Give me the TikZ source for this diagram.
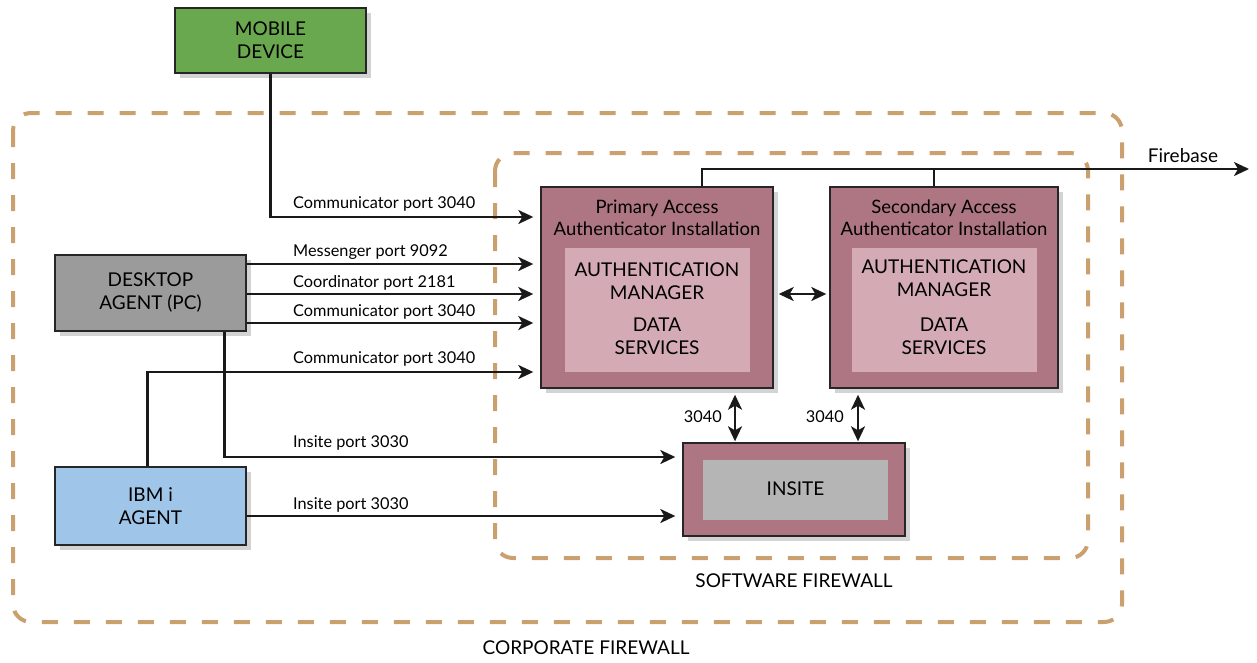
\documentclass[tikz,border=0pt]{standalone}
\usepackage{fontspec}
\setmainfont{Lato}
\usetikzlibrary{arrows.meta,shadows,calc}
\definecolor{mgreen}{HTML}{6AA84F}
\definecolor{dgray}{HTML}{9B9B9B}
\definecolor{ibmblue}{HTML}{9FC5E8}
\definecolor{mauve}{HTML}{AD7682}
\definecolor{lpink}{HTML}{D4ABB5}
\definecolor{insgray}{HTML}{B5B5B5}
\definecolor{tan}{HTML}{C9A06E}
\begin{document}
\begin{tikzpicture}[x=1pt,y=-1pt,
  box/.style={draw=black!85, line width=1.4pt, align=center, inner sep=0pt,
    font=\fontsize{19}{23}\selectfont,
    drop shadow={opacity=0.35, shadow xshift=5pt, shadow yshift=-5pt}},
  inbox/.style={draw=none, inner sep=0pt},
  caps/.style={align=center, inner sep=0pt, font=\fontsize{19}{23}\selectfont},
  ttl/.style={align=center, inner sep=0pt, font=\fontsize{18.5}{22}\selectfont},
  conn/.style={line width=2.2pt, draw=black!90},
  tip/.tip={Stealth[length=15pt,width=14pt,inset=4pt]},
  arr/.style={conn, -tip},
  darr/.style={conn, tip-tip},
  lbl/.style={font=\fontsize{16.3}{19}\selectfont, anchor=west, inner sep=0pt},
  fw/.style={draw=tan, line width=4pt, dash pattern=on 16pt off 16pt, rounded corners=18pt},
  fwlbl/.style={font=\fontsize{19}{22}\selectfont, inner sep=0pt}]
\useasboundingbox (0,0) rectangle (1257,662);

% firewalls
\draw[fw] (13,113) rectangle (1122,622);
\draw[fw] (495,153) rectangle (1088,558);
\node[fwlbl] (swfw) at (794,581) {SOFTWARE FIREWALL};
\node[fwlbl] (cpfw) at (586,648) {CORPORATE FIREWALL};

% boxes
\node[box, fill=mgreen, minimum width=191pt, minimum height=65pt] (mobile) at (270.5,40.5) {MOBILE\\DEVICE};
\node[box, fill=dgray, minimum width=191pt, minimum height=76pt] (desktop) at (150.5,293) {DESKTOP\\AGENT (PC)};
\node[box, fill=ibmblue, minimum width=191pt, minimum height=78pt] (ibm) at (150.5,506) {IBM i\\AGENT};
\node[box, fill=mauve, minimum width=232pt, minimum height=201pt] (primary) at (657,287.5) {};
\node[box, fill=mauve, minimum width=228pt, minimum height=201pt] (secondary) at (944,287.5) {};
\node[box, fill=mauve, minimum width=222pt, minimum height=93pt] (insite) at (794,489.5) {};

\node[inbox, fill=lpink, minimum width=185pt, minimum height=124pt] (primin) at (657.5,310) {};
\node[inbox, fill=lpink, minimum width=185pt, minimum height=124pt] (secin) at (944.5,310) {};
\node[inbox, fill=insgray, minimum width=185pt, minimum height=60pt] (insin) at (795.5,490) {};

\node[ttl] (primttl) at (657,218) {Primary Access\\Authenticator Installation};
\node[ttl] (secttl) at (944,218) {Secondary Access\\Authenticator Installation};
\node[caps] (primam) at (657,281.5) {AUTHENTICATION\\MANAGER};
\node[caps] (primds) at (657,336) {DATA\\SERVICES};
\node[caps] (secam) at (944,278.5) {AUTHENTICATION\\MANAGER};
\node[caps] (secds) at (944,336) {DATA\\SERVICES};
\node[caps] (instxt) at (795.5,489) {INSITE};

% rows
\coordinate (r1) at (0,217);
\coordinate (r2) at (0,264);
\coordinate (r3) at (0,294);
\coordinate (r4) at (0,323);
\coordinate (r5) at (0,372);
\coordinate (r6) at (0,457);
\coordinate (r7) at (0,516);
\coordinate (fb) at (1249,169);

% connectors
\draw[arr, shorten >=7pt] (mobile.south) |- (primary.west |- r1);
\node[lbl] (l1) at (293,204) {Communicator port 3040};
\draw[arr, shorten >=7pt] (desktop.east |- r2) -- (primary.west |- r2);
\node[lbl] (l2) at (293,252) {Messenger port 9092};
\draw[arr, shorten >=7pt] (desktop.east |- r3) -- (primary.west |- r3);
\node[lbl] (l3) at (293,283) {Coordinator port 2181};
\draw[arr, shorten >=7pt] (desktop.east |- r4) -- (primary.west |- r4);
\node[lbl] (l4) at (293,312) {Communicator port 3040};
\draw[arr, shorten >=7pt] ($(ibm.north)+(-3,0)$) |- (primary.west |- r5);
\node[lbl] (l5) at (293,359) {Communicator port 3040};
\draw[arr, shorten >=7pt] ($(desktop.south)+(74,0)$) |- (insite.west |- r6);
\node[lbl] (l6) at (293,443) {Insite port 3030};
\draw[arr, shorten >=7pt] (ibm.east |- r7) -- (insite.west |- r7);
\node[lbl] (l7) at (293,505) {Insite port 3030};

\draw[darr, shorten <=5pt, shorten >=3pt] (primary.east |- r3) -- (secondary.west |- r3);

\coordinate (pa) at (735,0);
\coordinate (pb) at (858,0);
\draw[darr, shorten <=6pt, shorten >=1pt] (primary.south -| pa) -- (insite.north -| pa);
\draw[darr, shorten <=6pt, shorten >=1pt] (secondary.south -| pb) -- (insite.north -| pb);
\node[lbl, anchor=east] (p1) at (722,417) {3040};
\node[lbl, anchor=east] (p2) at (844,417) {3040};

\draw[arr] ($(primary.north)+(45,0)$) |- (fb);
\draw[conn] ($(secondary.north)+(-10,0)$) -- ++(0,-18);
\node[lbl, anchor=center, font=\fontsize{19}{22}\selectfont] (fbl) at (1183,156) {Firebase};
\end{tikzpicture}
\end{document}
